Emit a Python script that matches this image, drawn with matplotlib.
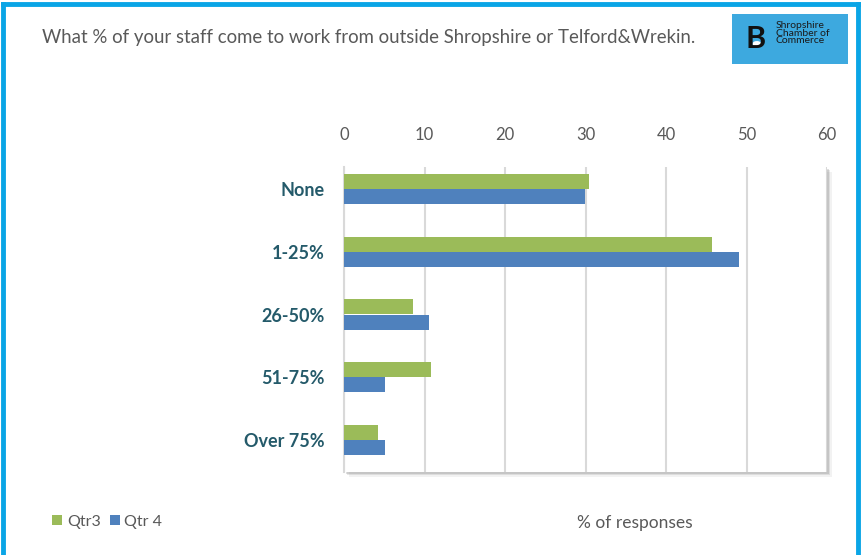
import numpy as np
import matplotlib.pyplot as plt
from matplotlib.patches import Rectangle, Ellipse

# data
categories = ["None", "1-25%", "26-50%", "51-75%", "Over 75%"]
qtr3 = [30.4, 45.7, 8.6, 10.8, 4.2]
qtr4 = [29.9, 49.1, 10.5, 5.1, 5.1]
series_names = ["Qtr3", "Qtr 4"]
x_ticks = [0, 10, 20, 30, 40, 50, 60]

GREEN = "#9BBB59"
BLUE = "#4F81BD"
FONT = ["Lato", "DejaVu Sans"]
plt.rcParams['font.family'] = FONT

W, H = 861, 555
fig = plt.figure(figsize=(W / 100, H / 100), dpi=100)

# axes box in pixel terms
left, right, top, bottom = 344, 827, 167, 472
ax = fig.add_axes([left / W, 1 - bottom / H, (right - left) / W, (bottom - top) / H])

# drop shadow behind the plot area
for off, a in [(5, 0.10), (3, 0.18), (1.5, 0.25)]:
    fig.patches.append(Rectangle(((left + off) / W, 1 - (bottom + off) / H),
                                 (right - left) / W, (bottom - top) / H,
                                 transform=fig.transFigure, facecolor="#808080",
                                 alpha=a, edgecolor="none", zorder=0))

y = np.arange(len(categories))
h = 0.24
ax.barh(y - h / 2, qtr3, height=h, color=GREEN, label=series_names[0], zorder=3)
ax.barh(y + h / 2, qtr4, height=h, color=BLUE, label=series_names[1], zorder=3)

ax.set_xlim(0, 60)
ax.set_ylim(4 + 32 / 62.75, -22 / 62.75)
ax.set_xticks(x_ticks)
ax.xaxis.tick_top()
ax.tick_params(axis="x", length=0, pad=17, labelsize=12, labelcolor="#595959")
ax.set_yticks(y)
ax.set_yticklabels(categories, fontsize=13, fontweight="bold", color="#245A6A")
ax.tick_params(axis="y", length=0, pad=14)
ax.grid(axis="x", color="#D9D9D9", linewidth=1.5, zorder=0)
ax.set_axisbelow(True)
for s in ["top", "right", "bottom"]:
    ax.spines[s].set_visible(False)
ax.spines["left"].set_color("#D9D9D9")
ax.spines["left"].set_linewidth(1.5)
ax.set_facecolor("white")
ax.set_zorder(2)

# title
fig.text(42 / W, 1 - 37 / H, "What % of your staff come to work from outside Shropshire or Telford&Wrekin.",
         fontsize=13.4, color="#595959", va="center", ha="left")

# x axis label at bottom
fig.text(635 / W, 1 - 523 / H, "% of responses", fontsize=12.5, color="#595959",
         ha="center", va="center")

# legend at bottom left
fig.legend(loc="center left", bbox_to_anchor=(38 / W, 1 - 522 / H), ncol=2, frameon=False,
           fontsize=11.5, handlelength=0.6, handleheight=0.6, handletextpad=0.3,
           columnspacing=0.6, labelcolor="#595959")

# logo box
fig.patches.append(Rectangle((732 / W, 1 - 64 / H), 116 / W, 50 / H, transform=fig.transFigure,
                             facecolor="#3DA9DF", edgecolor="none"))
fig.text(756 / W, 1 - 39 / H, "B", fontsize=22, fontweight="bold", color="#111111",
         ha="center", va="center")
fig.patches.append(Ellipse((757 / W, 1 - 44 / H), 9 / W, 6 / H, angle=30, transform=fig.transFigure,
                           facecolor="white", edgecolor="none"))
fig.text(776 / W, 1 - 33 / H, "Shropshire\nChamber of\nCommerce", fontsize=7.5,
         color="#1A1A1A", ha="left", va="center", linespacing=0.85)

# outer blue frame
frame_c = "#0AA5E6"
fig.add_artist(plt.Line2D([3 / W, 3 / W], [0, 1 - 4 / H], color=frame_c, lw=3.5, transform=fig.transFigure))
fig.add_artist(plt.Line2D([3 / W, 858 / W], [1 - 4 / H, 1 - 4 / H], color=frame_c, lw=3.5, transform=fig.transFigure))
fig.add_artist(plt.Line2D([858 / W, 858 / W], [0, 1 - 4 / H], color=frame_c, lw=3.5, transform=fig.transFigure))

fig.savefig("out.png", dpi=100, facecolor="white")
